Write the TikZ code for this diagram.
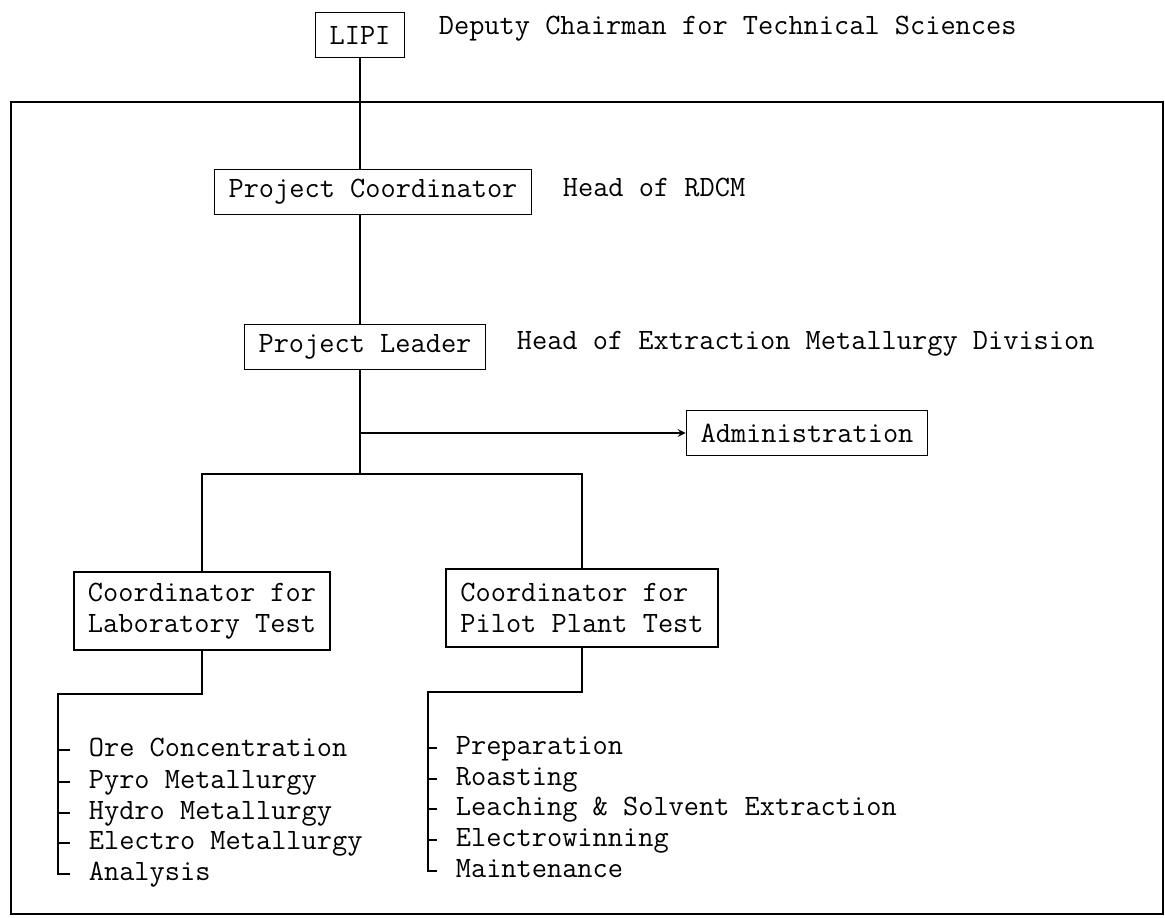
\documentclass[tikz,border=0pt]{standalone}
\tikzset{
every picture/.style={
line width=1pt
}}

\begin{document}
\begin{tikzpicture}[x=0.02cm, y=-0.02cm,
font=\ttfamily\fontsize{16.8}{17.6}\selectfont,
block/.style = {rectangle, draw=black, inner xsep=8pt, minimum height=0.9cm},
twoline/.style = {block, align=left, minimum height=1.56cm},
lbl/.style = {anchor=west, inner sep=0pt, text height=10.5pt, text depth=3.5pt},
tick/.style = {shorten >=0.36cm}]

\useasboundingbox (0,0) rectangle (1165,918);
\draw (11,102) rectangle (1163,914);

\node[block] (lipi) at (360,35) {LIPI};
\node[lbl] (lipirole) at (438,28) {Deputy Chairman for Technical Sciences};
\node[block] (pc) at (373,192) {Project Coordinator};
\node[lbl] (pcrole) at (562,190) {Head of RDCM};
\node[block] (pl) at (365,347) {Project Leader};
\node[lbl] (plrole) at (516,343) {Head of Extraction Metallurgy Division};
\node[block] (admin) at (807,433) {Administration};
\node[twoline] (lt) at (202,611) {Coordinator for\\Laboratory Test};
\node[twoline] (pt) at (582,608) {Coordinator for\\Pilot Plant Test};

\coordinate (bar) at (360,474);
\coordinate (lsplit) at (58,694);
\coordinate (psplit) at (428,692);

\node[lbl] (ore) at (88,750) {Ore Concentration};
\node[lbl] (pyro) at (88,782) {Pyro Metallurgy};
\node[lbl] (hydro) at (88,813) {Hydro Metallurgy};
\node[lbl] (electro) at (88,843) {Electro Metallurgy};
\node[lbl] (analysis) at (88,874) {Analysis};

\node[lbl] (prep) at (455,748) {Preparation};
\node[lbl] (roast) at (455,779) {Roasting};
\node[lbl] (leach) at (455,809) {Leaching \& Solvent Extraction};
\node[lbl] (ewin) at (455,840) {Electrowinning};
\node[lbl] (maint) at (455,871) {Maintenance};

\draw (lipi.south) -- (lipi.south |- pc.north);
\draw (lipi.south |- pc.south) -- (lipi.south |- pl.north);
\draw (lipi.south |- pl.south) -- (bar);
\draw [->, >=stealth] (lipi.south |- admin.west) -- (admin.west);
\draw (lt.north) |- (bar) -| (pt.north);

\draw [tick] (lt.south) |- (lsplit) |- (analysis.west);
\draw [tick] (ore.west -| lsplit) -- (ore.west);
\draw [tick] (pyro.west -| lsplit) -- (pyro.west);
\draw [tick] (hydro.west -| lsplit) -- (hydro.west);
\draw [tick] (electro.west -| lsplit) -- (electro.west);

\draw [tick] (pt.south) |- (psplit) |- (maint.west);
\draw [tick] (prep.west -| psplit) -- (prep.west);
\draw [tick] (roast.west -| psplit) -- (roast.west);
\draw [tick] (leach.west -| psplit) -- (leach.west);
\draw [tick] (ewin.west -| psplit) -- (ewin.west);
\end{tikzpicture}
\end{document}
